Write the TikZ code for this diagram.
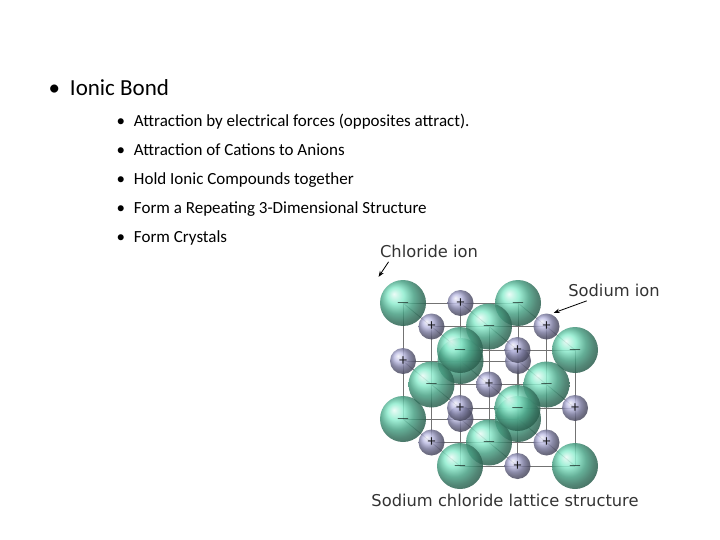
\documentclass[tikz,border=0pt]{standalone}
\usepackage{fontspec}
\setmainfont{Carlito}
\newfontfamily\lblfont{DejaVu Sans}
\usetikzlibrary{arrows.meta}
\definecolor{clc}{RGB}{105,230,190}
\definecolor{nac}{RGB}{170,170,220}
\tikzset{
  bul/.style={anchor=base west,font=\fontsize{17}{20}\selectfont},
  lbl/.style={font=\lblfont\fontsize{16.3}{18}\selectfont,text=black!80},
  cl/.style={circle,minimum size=46pt,inner sep=0pt,shading=ball,ball color=clc,opacity=0.85,
     font=\bfseries\fontsize{18}{18}\selectfont},
  na/.style={circle,minimum size=26pt,inner sep=0pt,shading=ball,ball color=nac,opacity=0.85,
     font=\fontsize{16}{16}\selectfont},
  grid/.style={draw=black!55,line width=0.7pt},
  arr/.style={-{Stealth[length=6pt]},line width=0.8pt}
}
\begin{document}
\begin{tikzpicture}[x=1pt,y=-1pt]
\useasboundingbox (0,0) rectangle (720,540);
\node[anchor=base west,font=\fontsize{23}{26}\selectfont] (t) at (45,96) {\textbullet\hspace{10pt}Ionic Bond};
\foreach \t [count=\n] in {Attraction by electrical forces (opposites attract).,Attraction of Cations to Anions,Hold Ionic Compounds together,Form a Repeating 3-Dimensional Structure,Form Crystals}{
  \node[bul] (b\n) at (113,{121+28.8*(\n-1)+6}) {\textbullet\hspace{9pt}\t};
}
% grid lines
\foreach \a in {0,1,2}{\foreach \b in {0,1,2}{
  \draw[grid] ({403+57.5*0+28.5*\b},{303+58*\a+23.5*\b}) -- ({403+57.5*2+28.5*\b},{303+58*\a+23.5*\b});
  \draw[grid] ({403+57.5*\a+28.5*\b},{303+23.5*\b}) -- ({403+57.5*\a+28.5*\b},{303+116+23.5*\b});
  \draw[grid] ({403+57.5*\a},{303+58*\b}) -- ({403+57.5*\a+57},{303+58*\b+47});
}}
\foreach \k in {0,1,2}{\foreach \j in {0,1,2}{\foreach \i in {0,1,2}{
  \pgfmathtruncatemacro\p{mod(\i+\j+\k,2)}
  \pgfmathtruncatemacro\h{(\k==0)&&(\i>0)&&(\j>0)}
  \ifnum\p=0
    \node[cl] (s\i\j\k) at ({403+57.5*\i+28.5*\k},{303+58*\j+23.5*\k}) {\ifnum\h=0 $-$\fi};
  \else
    \node[na] (s\i\j\k) at ({403+57.5*\i+28.5*\k},{303+58*\j+23.5*\k}) {\ifnum\h=0 +\fi};
  \fi
}}}
\node[lbl] (cli) at (429,251) {Chloride ion};
\node[lbl] (nai) at (614,290) {Sodium ion};
\node[lbl] (cap) at (505,500) {Sodium chloride lattice structure};
\draw[arr] ([xshift=12pt,yshift=-1pt]cli.south west) -- ([xshift=2pt,yshift=-16pt]cli.south west);
\draw[arr] ([xshift=22pt,yshift=-1pt]nai.south west) -- ([xshift=-11pt,yshift=-13pt]nai.south west);
\end{tikzpicture}
\end{document}
